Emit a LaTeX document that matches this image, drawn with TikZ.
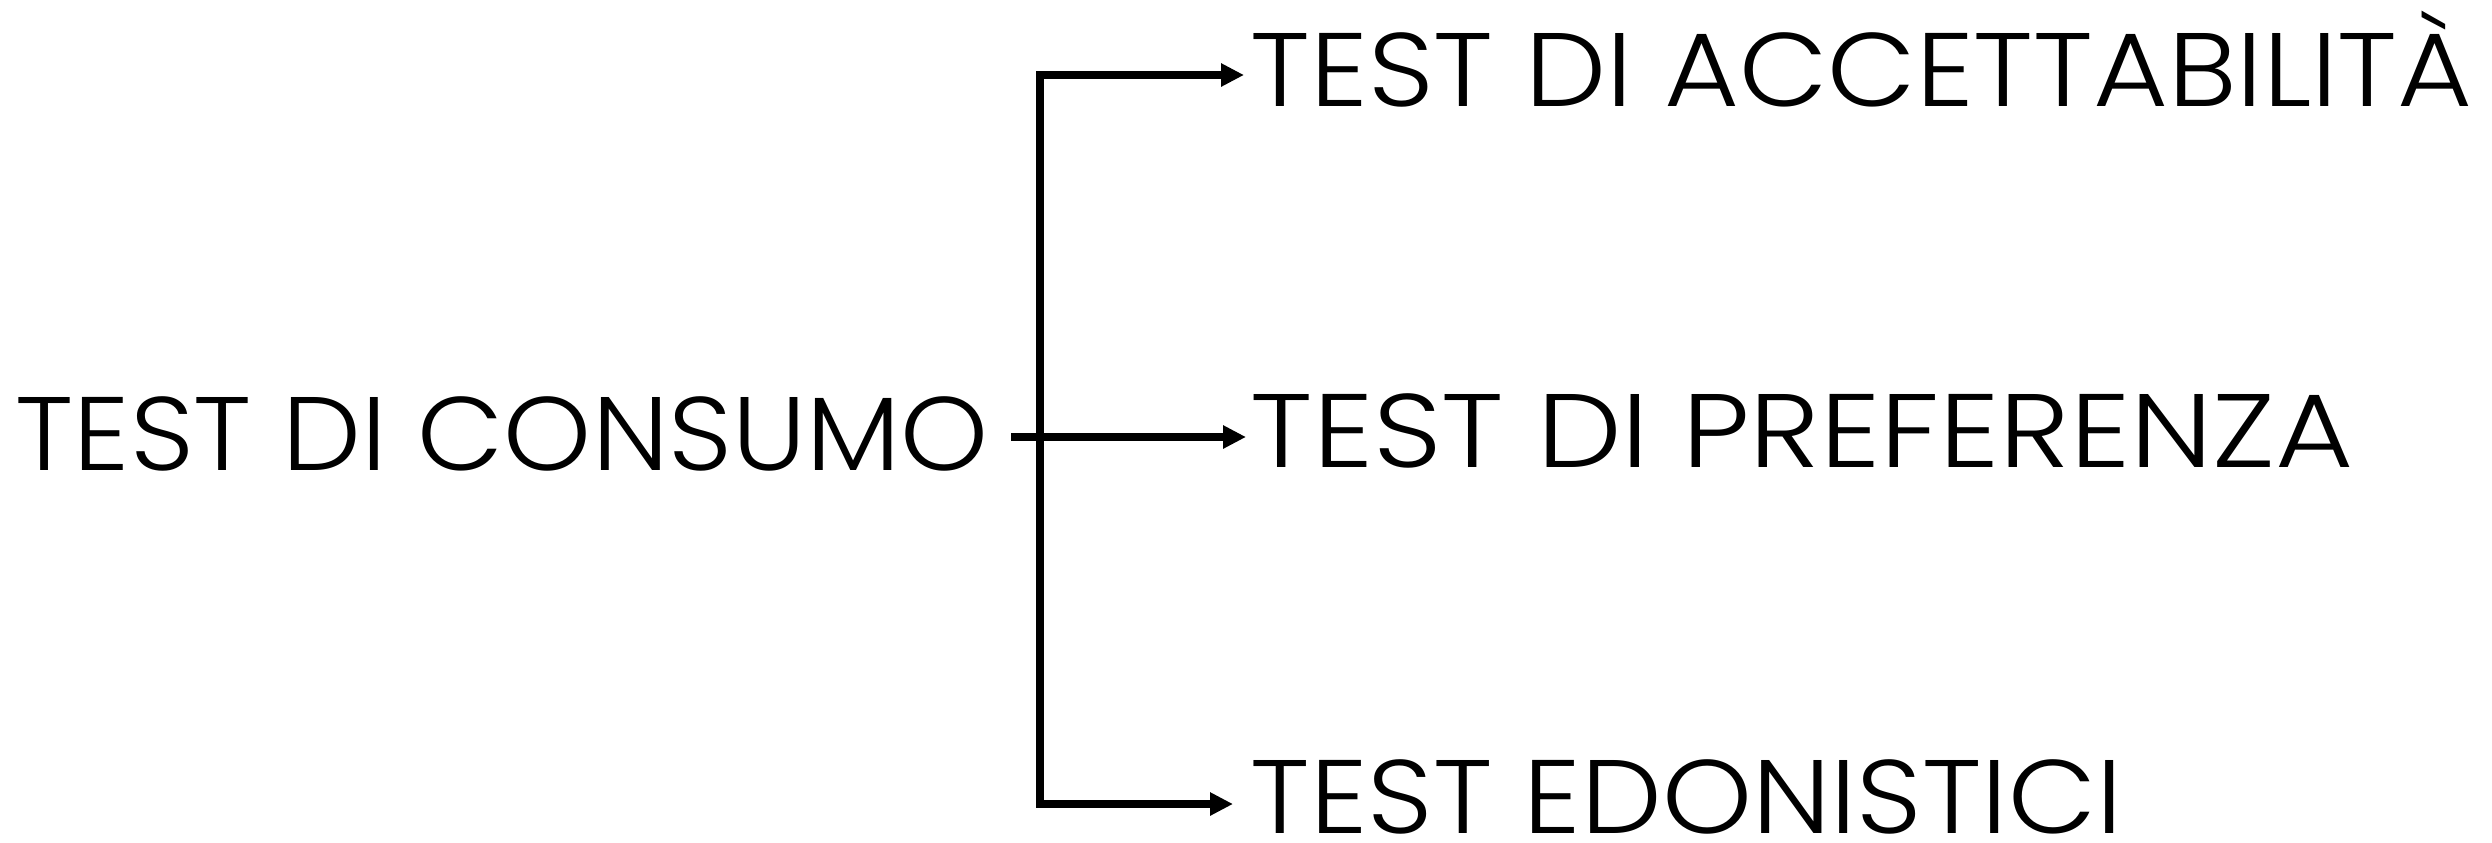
\documentclass[tikz,border=0pt]{standalone}
\usepackage{fontspec}
\setmainfont{Poppins}[UprightFont=* Light]
\usetikzlibrary{arrows.meta}
\begin{document}
\begin{tikzpicture}[x=0.01cm, y=-0.01cm,
  >={Triangle[length=0.23cm, width=0.22cm]},
  lbl/.style={inner sep=0pt, anchor=base west, font=\fontsize{29.7pt}{36pt}\selectfont},
  conn/.style={line width=0.08cm, line join=miter, line cap=butt}]
\useasboundingbox (0,0) rectangle (2492,842);

% labels (widened to the set's wide capitals)
\node[lbl] (src)  at (15,470)   {\scalebox{1.07}[1]{TEST DI CONSUMO}};
\node[lbl] (acc)  at (1250,106) {\scalebox{1.10}[1]{TEST DI ACCETTABILITÀ}};
\node[lbl] (pref) at (1250,467) {\scalebox{1.148}[1]{TEST DI PREFERENZA}};
\node[lbl] (edo)  at (1250,833) {\scalebox{1.095}[1]{TEST EDONISTICI}};

% branching points
\coordinate (jin)  at (1011,437);
\coordinate (ctop) at (1040,75);
\coordinate (cbot) at (1040,804);

% trunk with upper and lower branches
\draw[conn, <->, shorten <=0.06cm, shorten >=0.17cm]
  (ctop -| acc.west) -- (ctop) -- (cbot) -- (cbot -| edo.west);
% middle branch
\draw[conn, ->, shorten >=0.04cm] (jin) -- (jin -| pref.west);
\end{tikzpicture}
\end{document}
